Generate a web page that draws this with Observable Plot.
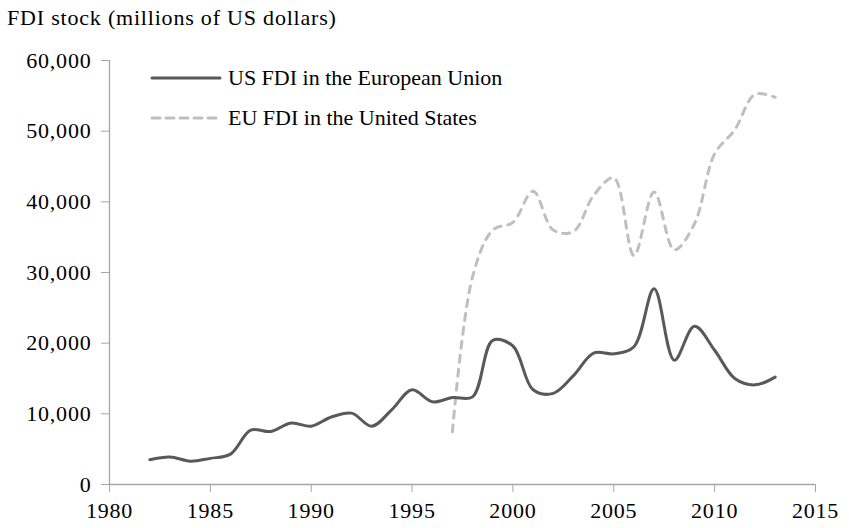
<!DOCTYPE html>
<html>
<head>
<meta charset="utf-8">
<script src="https://cdn.jsdelivr.net/npm/d3@7"></script>
<script src="https://cdn.jsdelivr.net/npm/@observablehq/plot@0.6"></script>
<style>
  html, body { margin: 0; padding: 0; background: #fff; }
  #wrap { position: relative; width: 849px; height: 528px; font-family: "Liberation Serif", "Times New Roman", serif; color: #000; }
  #title { height: 36px; line-height: 36px; font-size: 22px; letter-spacing: 0.8px; padding-left: 7px; white-space: nowrap; }
  #chart svg { display: block; }
  .leg { position: absolute; left: 150px; height: 24px; display: flex; align-items: center; font-size: 22px; letter-spacing: 0px; white-space: nowrap; }
  .leg svg { display: block; margin-right: 6px; }
</style>
</head>
<body>
<div id="wrap">
  <div id="title"></div>
  <div id="chart"></div>
  <div id="legend"></div>
</div>
<script>
const titleText = "FDI stock (millions of US dollars)";
const seriesNames = ["US FDI in the European Union", "EU FDI in the United States"];

const usYears = [1982, 1983, 1984, 1985, 1986, 1987, 1988, 1989, 1990, 1991, 1992, 1993, 1994, 1995, 1996, 1997,
                 1998, 1999, 2000, 2001, 2002, 2003, 2004, 2005, 2006, 2007, 2008, 2009, 2010, 2011, 2012, 2013];
const usValues = [3500, 3900, 3300, 3700, 4300, 7700, 7500, 8700, 8250, 9550, 10100, 8250, 10600, 13400, 11700, 12300,
                  12400, 20400, 19600, 13400, 12900, 15400, 18600, 18500, 19500, 27700, 17600, 22400, 19000, 15000, 14100, 15200];

const euYears = [1997, 1998, 1999, 2000, 2001, 2002, 2003, 2004, 2005, 2006, 2007, 2008, 2009, 2010, 2011, 2012, 2013];
const euValues = [7450, 29400, 36000, 37100, 41500, 36000, 35800, 40900, 43400, 32400, 41400, 33200, 36900, 46800, 50200, 55200, 54800];

const xTicks = [1980, 1985, 1990, 1995, 2000, 2005, 2010, 2015];
const yTicks = [0, 10000, 20000, 30000, 40000, 50000, 60000];

const usColor = "#595959";
const euColor = "#bfbfbf";
const axisColor = "#a6a6a6";

const us = usYears.map((year, i) => ({year, value: usValues[i]}));
const eu = euYears.map((year, i) => ({year, value: euValues[i]}));

document.getElementById("title").textContent = titleText;

const chart = Plot.plot({
  width: 849,
  height: 492,
  marginLeft: 109,
  marginRight: 34,
  marginTop: 24,
  marginBottom: 44,
  style: {fontFamily: "Liberation Serif, Times New Roman, serif", fontSize: "22px", letterSpacing: "0.8px", color: "#000", background: "#fff"},
  x: {domain: [1980, 2015], label: null},
  y: {domain: [0, 60000], label: null},
  marks: [
    Plot.axisX({ticks: xTicks, tickSize: 8, tickPadding: 10, stroke: axisColor, fill: "#000", fontSize: 22, tickFormat: d => String(d), label: null}),
    Plot.axisY({ticks: yTicks, tickSize: 8, tickPadding: 10, stroke: axisColor, fill: "#000", fontSize: 22, tickFormat: d3.format(","), label: null}),
    Plot.ruleY([0], {stroke: axisColor, strokeWidth: 1.3}),
    Plot.ruleX([1980], {stroke: axisColor, strokeWidth: 1.3}),
    Plot.line(eu, {x: "year", y: "value", stroke: euColor, strokeWidth: 3, strokeDasharray: "7,7", strokeLinecap: "round", curve: "catmull-rom"}),
    Plot.line(us, {x: "year", y: "value", stroke: usColor, strokeWidth: 3, curve: "catmull-rom"})
  ]
});
document.getElementById("chart").appendChild(chart);

// Legend
const legend = document.getElementById("legend");
const legendItems = [
  {name: seriesNames[0], color: usColor, dash: null, top: 66},
  {name: seriesNames[1], color: euColor, dash: "8,6", top: 106}
];
for (const item of legendItems) {
  const row = document.createElement("div");
  row.className = "leg";
  row.style.top = item.top + "px";
  const s = d3.create("svg").attr("width", 72).attr("height", 10);
  s.append("line").attr("x1", 2).attr("x2", 70).attr("y1", 5).attr("y2", 5)
    .attr("stroke", item.color).attr("stroke-width", 3).attr("stroke-linecap", "round")
    .attr("stroke-dasharray", item.dash);
  row.appendChild(s.node());
  const t = document.createElement("span");
  t.textContent = item.name;
  row.appendChild(t);
  legend.appendChild(row);
}
</script>
</body>
</html>
